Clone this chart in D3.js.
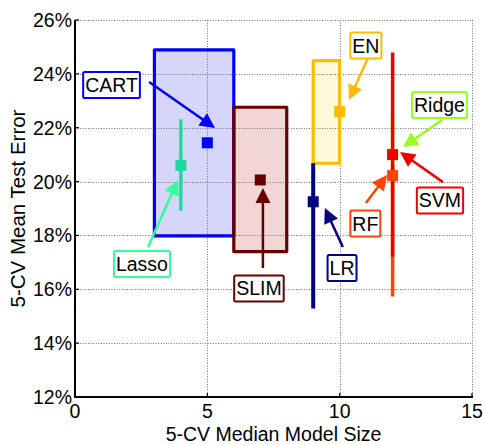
<!DOCTYPE html>
<html><head><meta charset="utf-8">
<script src="https://cdn.jsdelivr.net/npm/d3@7"></script>
<style>
body{margin:0;background:#fff;}
text{font-family:"Liberation Sans",Arial,Helvetica,sans-serif;}
</style></head>
<body><svg id="c" width="483" height="445"></svg>
<script>
// ---- data ----
const methods   = ["CART","Lasso","SLIM","LR","EN","Ridge","RF","SVM"];
const sizeMid   = [5, 4, 7, 9, 10, 12, 12, 12];
const sizeLo    = [3, 4, 6, 9, 9, 12, 12, 12];
const sizeHi    = [6, 4, 8, 9, 10, 12, 12, 12];
const errMid    = [21.44, 20.6, 20.06, 19.25, 22.6, 21.0, 20.22, 21.0];
const errLo     = [17.98, 18.92, 17.4, 15.29, 20.68, 19.6, 15.73, 17.21];
const errHi     = [24.89, 22.31, 22.76, 20.68, 24.49, 22.4, 20.6, 24.79];
const lineCol   = ["#0000ff","#22d89e","#660000","#000080","#ffbb00","#99ff22","#ff4400","#ee0000"];
const fillCol   = ["#d6d6fb",null,"#f2d6d6",null,"#fff9dc",null,null,null];
const annoCol   = ["#0000ff","#33ff99","#660000","#000080","#ffbb00","#99ff22","#ff4400","#ee0000"];
// annotation label centre, arrow start and arrow tip (data units)
const labelX    = [1.38, 2.53, 6.95, 10.09, 10.99, 13.77, 10.97, 13.79];
const labelY    = [23.59, 16.94, 16.03, 16.79, 25.05, 22.84, 18.44, 19.30];
const arrowX0   = [2.80, 2.76, 7.10, 10.12, 11.07, 13.87, 10.99, 13.90];
const arrowY0   = [23.70, 17.57, 16.79, 17.57, 24.59, 22.29, 19.20, 19.98];
const arrowX1   = [5.29, 3.89, 7.10, 9.44, 10.35, 12.39, 11.79, 12.28];
const arrowY1   = [21.99, 20.06, 19.76, 19.02, 23.03, 21.28, 20.24, 21.10];
const xTicks    = [0, 5, 10, 15];
const yTicks    = [12, 14, 16, 18, 20, 22, 24, 26];
const xTitle    = "5-CV Median Model Size";
const yTitle    = "5-CV Mean Test Error";

// ---- layout ----
const L = 75, T = 20, R = 472, B = 397;
const svg = d3.select("#c");
const x = d3.scaleLinear().domain([0, 15]).range([L, R]);
const y = d3.scaleLinear().domain([12, 26]).range([B, T]);

const idx = d3.range(methods.length);

// fills
svg.append("g").selectAll("rect").data(idx.filter(i => fillCol[i])).join("rect")
  .attr("x", i => x(sizeLo[i])).attr("y", i => y(errHi[i]))
  .attr("width", i => x(sizeHi[i]) - x(sizeLo[i]))
  .attr("height", i => y(errLo[i]) - y(errHi[i]))
  .attr("fill", i => fillCol[i]);

// grid
const grid = svg.append("g").attr("stroke", "#707070").attr("stroke-width", 1).attr("stroke-dasharray", "1,1.6");
grid.selectAll(".gx").data(xTicks).join("line")
  .attr("x1", d => Math.round(x(d)) + 0.5).attr("x2", d => Math.round(x(d)) + 0.5)
  .attr("y1", T).attr("y2", B);
grid.selectAll(".gy").data(yTicks).join("line")
  .attr("y1", d => Math.round(y(d)) + 0.5).attr("y2", d => Math.round(y(d)) + 0.5)
  .attr("x1", L).attr("x2", R);

// box outlines
svg.append("g").selectAll("rect").data(idx.filter(i => fillCol[i])).join("rect")
  .attr("x", i => x(sizeLo[i])).attr("y", i => y(errHi[i]))
  .attr("width", i => x(sizeHi[i]) - x(sizeLo[i]))
  .attr("height", i => y(errLo[i]) - y(errHi[i]))
  .attr("fill", "none").attr("stroke", i => lineCol[i]).attr("stroke-width", 3.2)
  .attr("stroke-linejoin", "round");

// vertical range lines (draw order: Lasso, LR, Ridge, RF, SVM)
const lineOrder = [1, 3, 5, 6, 7];
svg.append("g").selectAll("line").data(lineOrder).join("line")
  .attr("x1", i => x(sizeMid[i])).attr("x2", i => x(sizeMid[i]))
  .attr("y1", i => y(errLo[i])).attr("y2", i => y(errHi[i]))
  .attr("stroke", i => lineCol[i]).attr("stroke-width", i => i === 3 ? 4 : 3.5);

// markers
const ms = 11;
svg.append("g").selectAll("rect").data(idx).join("rect")
  .attr("x", i => x(sizeMid[i]) - ms / 2).attr("y", i => y(errMid[i]) - ms / 2)
  .attr("width", ms).attr("height", ms)
  .attr("fill", i => lineCol[i]);

// axes
const ax = svg.append("g");
ax.append("line").attr("x1", L).attr("x2", R + 1).attr("y1", B).attr("y2", B).attr("stroke", "#000").attr("stroke-width", 2);
ax.append("line").attr("x1", L).attr("x2", L).attr("y1", T).attr("y2", B + 1).attr("stroke", "#000").attr("stroke-width", 2);
ax.selectAll(".tx").data(xTicks).join("line")
  .attr("x1", d => x(d)).attr("x2", d => x(d)).attr("y1", B).attr("y2", B - 4)
  .attr("stroke", "#000").attr("stroke-width", 1.2);
ax.selectAll(".ty").data(yTicks).join("line")
  .attr("y1", d => y(d)).attr("y2", d => y(d)).attr("x1", L).attr("x2", L + 4)
  .attr("stroke", "#000").attr("stroke-width", 1.2);
ax.selectAll(".lx").data(xTicks).join("text")
  .attr("x", d => x(d)).attr("y", B + 21).attr("text-anchor", "middle")
  .attr("font-size", 19.5).text(d => d);
ax.selectAll(".ly").data(yTicks).join("text")
  .attr("x", L - 3).attr("y", d => y(d) + 7).attr("text-anchor", "end")
  .attr("font-size", 19.5).text(d => d + "%");
svg.append("text").attr("x", (L + R) / 2).attr("y", 440.5).attr("text-anchor", "middle")
  .attr("font-size", 19.5).text(xTitle);
svg.append("text").attr("transform", `translate(25,${(T + B) / 2}) rotate(-90)`)
  .attr("text-anchor", "middle").attr("font-size", 20.5).text(yTitle);

// arrows
const ag = svg.append("g");
idx.forEach(i => {
  const x0 = x(arrowX0[i]), y0 = y(arrowY0[i]), x1 = x(arrowX1[i]), y1 = y(arrowY1[i]);
  const dx = x1 - x0, dy = y1 - y0, len = Math.hypot(dx, dy);
  const ux = dx / len, uy = dy / len, hl = 15, hw = 7.5;
  const bx = x1 - ux * hl, by = y1 - uy * hl;
  ag.append("line").attr("x1", x0).attr("y1", y0).attr("x2", bx + ux).attr("y2", by + uy)
    .attr("stroke", annoCol[i]).attr("stroke-width", 2.5);
  ag.append("path")
    .attr("d", `M${x1},${y1}L${bx - uy * hw},${by + ux * hw}L${bx + uy * hw},${by - ux * hw}Z`)
    .attr("fill", annoCol[i]);
});

// labels
const lg = svg.append("g");
idx.forEach(i => {
  const cx = x(labelX[i]), cy = y(labelY[i]);
  const g = lg.append("g");
  const r = g.append("rect");
  const t = g.append("text").attr("x", cx).attr("y", cy + 7).attr("text-anchor", "middle")
    .attr("font-size", 19.5).text(methods[i]);
  const w = t.node().getComputedTextLength() + 4;
  r.attr("x", cx - w / 2).attr("y", cy - 13).attr("width", w).attr("height", 26)
    .attr("fill", "#fff").attr("stroke", annoCol[i]).attr("stroke-width", 2)
    .attr("rx", 1.5);
});
</script></body></html>
